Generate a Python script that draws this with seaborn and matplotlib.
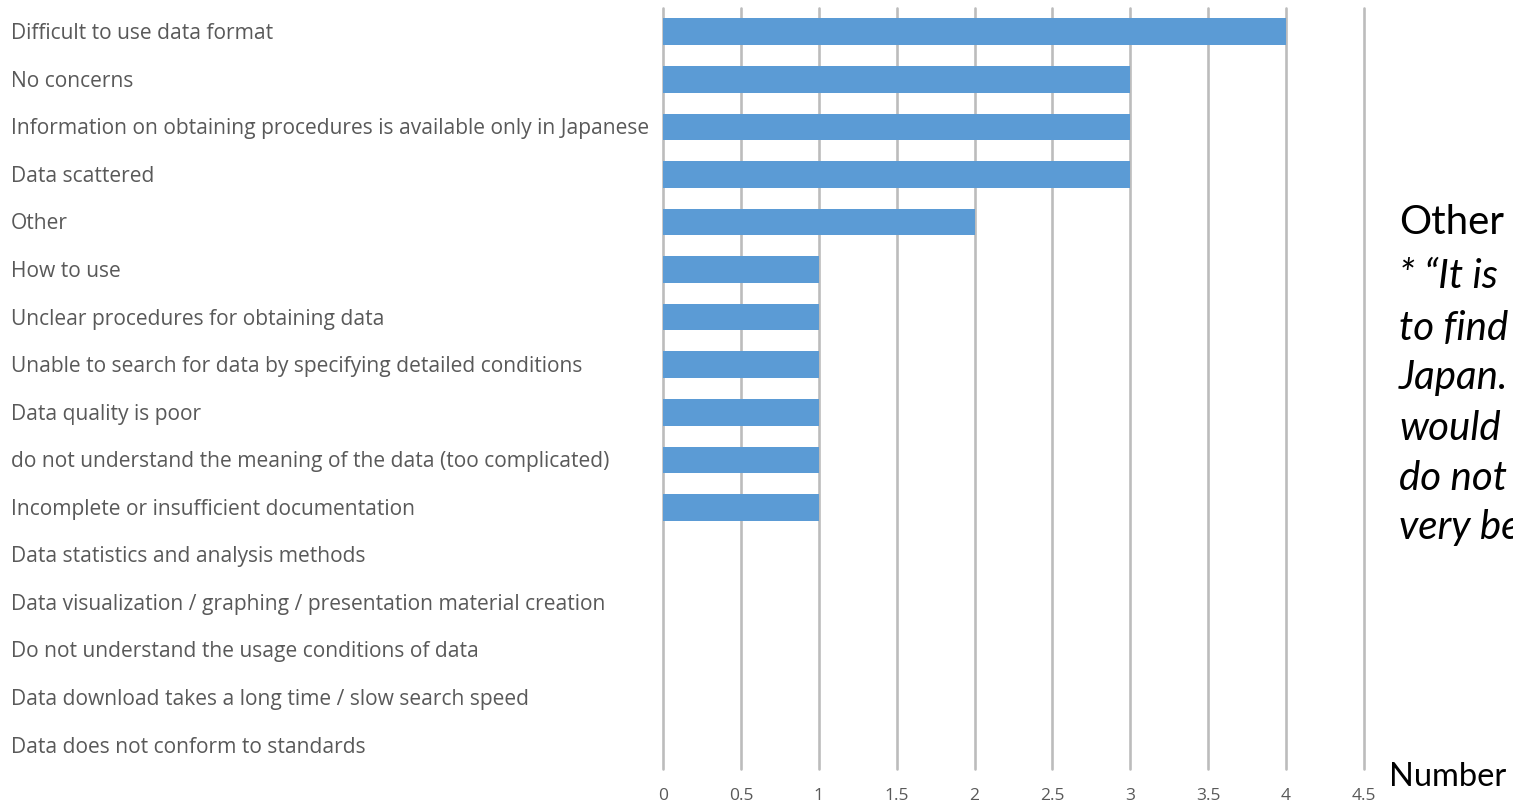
import numpy as np
import pandas as pd
import matplotlib
matplotlib.use("Agg")
import matplotlib.pyplot as plt
import matplotlib.transforms as mtransforms
import seaborn as sns

categories = [
    "Difficult to use data format",
    "No concerns",
    "Information on obtaining procedures is available only in Japanese",
    "Data scattered",
    "Other",
    "How to use",
    "Unclear procedures for obtaining data",
    "Unable to search for data by specifying detailed conditions",
    "Data quality is poor",
    "do not understand the meaning of the data (too complicated)",
    "Incomplete or insufficient documentation",
    "Data statistics and analysis methods",
    "Data visualization / graphing / presentation material creation",
    "Do not understand the usage conditions of data",
    "Data download takes a long time / slow search speed",
    "Data does not conform to standards",
]
values = [4, 3, 3, 3, 2, 1, 1, 1, 1, 1, 1, 0, 0, 0, 0, 0]
x_ticks = [0, 0.5, 1, 1.5, 2, 2.5, 3, 3.5, 4, 4.5]
x_tick_labels = ["0", "0.5", "1", "1.5", "2", "2.5", "3", "3.5", "4", "4.5"]
note_title = "Other"
note_lines = [
    "* \u201cIt is",
    "to find",
    "Japan.",
    "would",
    "do not",
    "very be",
]
axis_unit = "Number"

sns.set_theme(style="white")
plt.rcParams["font.family"] = ["Open Sans", "DejaVu Sans"]

W, H = 1513, 806
fig = plt.figure(figsize=(W / 100, H / 100), dpi=100)
ax = fig.add_axes([663 / W, 37 / H, 701 / W, 761 / H])

df = pd.DataFrame({"category": categories, "value": values})
sns.barplot(data=df, x="value", y="category", orient="h", color="#5B9BD5",
            saturation=1, width=0.56, linewidth=0, ax=ax, zorder=3)

ax.set_xlim(0, 4.5)
ax.set_ylim(len(categories) - 0.5, -0.5)
ax.set_xticks(x_ticks)
ax.set_xticklabels(x_tick_labels, fontsize=12.5, color="#595959")
ax.grid(axis="x", color="#BCBCBC", linewidth=1.9, zorder=0)
ax.grid(axis="y", visible=False)
for gl in ax.get_xgridlines():
    gl.set_clip_on(False)
ax.tick_params(axis="x", length=0, pad=14)
ax.set_yticks([])
ax.set_xlabel("")
ax.set_ylabel("")
for s in ax.spines.values():
    s.set_visible(False)

trans = mtransforms.blended_transform_factory(fig.transFigure, ax.transData)
for i, c in enumerate(categories):
    fig.text(11 / W, i + 0.04, c, transform=trans, ha="left", va="center",
             fontsize=15.1, color="#595959")

fig.text(1399 / W, 1 - 223 / H, note_title, ha="left", va="center",
         fontsize=29, color="black", family=["Lato", "DejaVu Sans"])
ys = [276, 328, 378, 428, 478, 528]
for y, line in zip(ys, note_lines):
    fig.text(1399 / W, 1 - y / H, line, ha="left", va="center",
             fontsize=29, color="black", style="italic",
             family=["Lato", "DejaVu Sans"])

fig.text(1389 / W, 1 - 777 / H, axis_unit, ha="left", va="center",
         fontsize=23.5, color="black", family=["Lato", "DejaVu Sans"])

fig.savefig("out.png", dpi=100)
